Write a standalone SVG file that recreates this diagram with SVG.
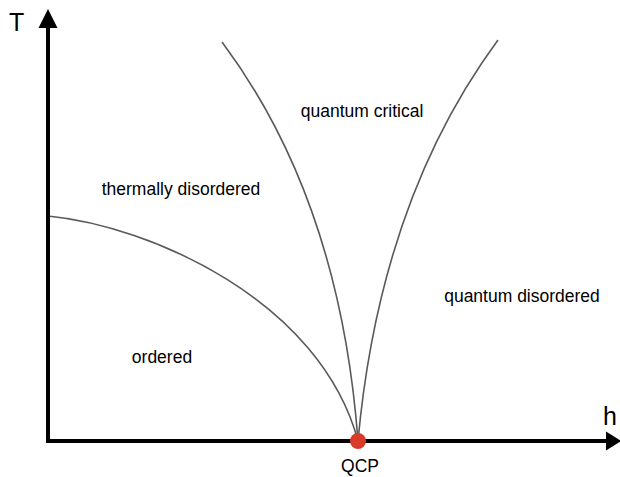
<svg xmlns="http://www.w3.org/2000/svg" width="620" height="477" viewBox="0 0 620 477">
<style>
.lbl{font-family:"Liberation Sans",Arial,sans-serif;font-size:17.5px;fill:#000}
.ax{font-family:"Liberation Sans",Arial,sans-serif;font-size:25px;fill:#000}
.crv{fill:none;stroke:#5a5a5a;stroke-width:1.6}
.axis{stroke:#000;stroke-width:4;fill:none}
</style>
<rect width="620" height="477" fill="#fff"/>
<g id="connectors">
<path class="crv" d="M48,216 C150,226 320,300 358,441"/>
<path class="crv" d="M222,42 Q340,200 358,441"/>
<path class="crv" d="M498,40 Q380,200 358,441"/>
</g>
<g id="axes">
<line class="axis" x1="48" y1="443" x2="48" y2="26"/>
<polygon points="48,9 38.5,28 57.5,28" fill="#000"/>
<line class="axis" x1="46" y1="441" x2="606" y2="441"/>
<polygon points="621,441 606,431.5 606,450.5" fill="#000"/>
<text class="ax" x="9" y="31">T</text>
<text class="ax" x="603" y="425">h</text>
</g>
<g id="qcp">
<circle cx="358" cy="441" r="8" fill="#d83b2a"/>
<text class="lbl" x="360" y="472" text-anchor="middle">QCP</text>
</g>
<g id="quantum-critical"><text class="lbl" x="362" y="117" text-anchor="middle">quantum critical</text></g>
<g id="thermally-disordered"><text class="lbl" x="181" y="195" text-anchor="middle">thermally disordered</text></g>
<g id="quantum-disordered"><text class="lbl" x="522" y="302" text-anchor="middle">quantum disordered</text></g>
<g id="ordered"><text class="lbl" x="162" y="363" text-anchor="middle">ordered</text></g>
</svg>
